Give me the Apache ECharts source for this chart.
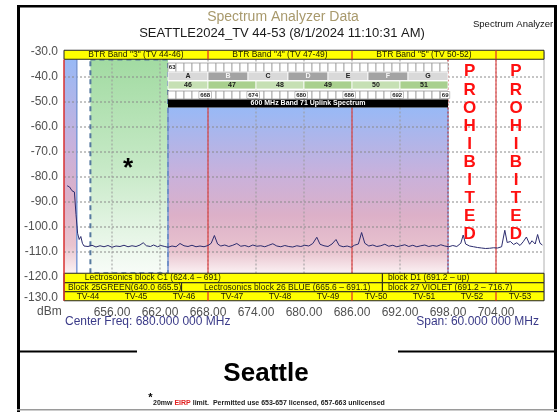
<!DOCTYPE html>
<html><head><meta charset="utf-8">
<script src="https://cdn.jsdelivr.net/npm/echarts@6/dist/echarts.min.js"></script>
<style>html,body{margin:0;padding:0;background:#fff}#c{width:560px;height:412px}</style>
</head><body><div id="c"></div>
<script>
// ---------- data ----------
const freqTicks = [656, 662, 668, 674, 680, 686, 692, 698, 704];
const levelTicks = [-40, -50, -60, -70, -80, -90, -100, -110, -120];
const btrBands = [['BTR Band "3" (TV 44-46)', 650, 668], ['BTR Band "4" (TV 47-49)', 668, 686], ['BTR Band "5" (TV 50-52)', 686, 704], ['', 704, 710]];
const btrEdges = [650, 668, 686, 704];
const tvChannels = [['TV-44', 650, 656], ['TV-45', 656, 662], ['TV-46', 662, 668], ['TV-47', 668, 674], ['TV-48', 674, 680], ['TV-49', 680, 686], ['TV-50', 686, 692], ['TV-51', 692, 698], ['TV-52', 698, 704], ['TV-53', 704, 710]];
const tmoBlocks = [['A', 663, 668], ['B', 668, 673], ['C', 673, 678], ['D', 678, 683], ['E', 683, 688], ['F', 688, 693], ['G', 693, 698]];
const band71Channels = [['46', 663, 668], ['47', 668, 674], ['48', 674, 680], ['49', 680, 686], ['50', 686, 692], ['51', 692, 698]];
const mhzLabels = [['668', 668], ['674', 674], ['680', 680], ['686', 686], ['692', 692], ['69', 698]];
const firstMhzLabel = ['63', 663];
const lectroUpper = [['Lectrosonics block C1 (624.4 – 691)', 650, 689.8], ['block D1 (691.2 – up)', 689.8, 710]];
const lectroLower = [['Block 25GREEN(640.0 665.5)', 650, 664.7], ['Lectrosonics block 26 BLUE (665.6 – 691.1)', 664.7, 689.8], ['block 27 VIOLET (691.2 – 716.7)', 689.8, 710]];
const band71Uplink = [663, 698];
const band71Title = '600 MHz Band 71 Uplink Spectrum';
const downlinkStrip = [650, 651.6];
const permitted = [653.3, 663];
const prohibitedEdges = [698, 704];
const prohibitedCols = [700.7, 706.5];
const trace = [
[650.4,-83.5],[650.7,-84.0],[651.0,-85.5],[651.3,-86.0],[651.5,-95.0],[651.7,-102.5],[651.9,-105.0],[652.1,-103.8],[652.3,-106.5],[652.5,-107.6],
[653.0,-107.8],[653.5,-107.3],[654.0,-108.0],[654.5,-107.5],[655.0,-107.9],[655.5,-107.4],[656.0,-108.1],[656.5,-107.6],[657.0,-107.8],[657.5,-107.3],
[658.0,-107.9],[658.5,-107.5],[659.0,-107.8],[659.5,-107.2],[659.9,-106.3],[660.3,-107.5],[660.8,-107.8],[661.2,-107.2],[661.7,-107.9],[662.1,-107.4],
[662.6,-107.8],[663.0,-108.1],[663.5,-107.6],[664.0,-107.9],[664.5,-106.6],[665.0,-107.5],[665.5,-107.8],[666.0,-107.3],[666.5,-107.9],[667.0,-107.6],
[667.5,-107.9],[668.0,-107.4],[668.4,-106.5],[668.8,-103.4],[669.2,-106.8],[669.6,-107.6],[670.1,-107.2],[670.6,-107.8],[671.1,-107.3],[671.6,-106.6],
[672.1,-107.7],[672.6,-107.4],[673.1,-107.9],[673.6,-107.2],[674.1,-107.7],[674.6,-107.5],[675.1,-107.9],[675.6,-107.3],[676.1,-106.7],[676.6,-107.6],
[677.1,-107.9],[677.6,-107.4],[678.1,-107.8],[678.6,-108.0],[679.1,-107.5],[679.6,-107.8],[680.1,-107.3],[680.6,-107.6],[681.1,-106.6],[681.6,-104.1],
[682.0,-106.9],[682.5,-107.5],[683.0,-107.8],[683.5,-106.8],[684.0,-105.0],[684.4,-107.4],[684.9,-107.9],[685.4,-107.6],[685.9,-108.1],[686.3,-107.3],
[686.8,-106.8],[687.2,-102.2],[687.6,-106.5],[688.1,-107.6],[688.6,-107.2],[689.1,-107.8],[689.6,-107.5],[690.1,-106.9],[690.6,-107.7],[691.1,-107.3],
[691.6,-107.9],[692.1,-107.5],[692.6,-107.1],[693.1,-107.8],[693.6,-107.3],[694.1,-107.9],[694.6,-107.5],[695.1,-107.2],[695.6,-107.8],[696.1,-107.4],
[696.6,-107.7],[697.1,-107.1],[697.6,-107.6],[698.1,-107.9],[698.6,-107.4],[699.1,-107.8],[699.6,-106.5],[699.9,-103.2],[700.2,-106.8],[700.7,-107.6],
[701.2,-107.9],[701.7,-108.2],[702.2,-108.4],[702.7,-108.6],[703.2,-108.5],[703.7,-108.3],[704.2,-108.4],[704.7,-107.9],[705.1,-101.3],[705.4,-106.2],
[705.8,-105.8],[706.2,-107.0],[706.6,-106.3],[707.0,-107.4],[707.4,-105.9],[707.8,-104.0],[708.2,-106.9],[708.5,-105.5],[708.9,-106.8],[709.2,-103.0],
[709.5,-106.5],[709.8,-107.2]
];

// ---------- layout (rows in dBm units) ----------
const R = { btr:[-29.3,-32.9], r1:[-34.4,-38.0], r2:[-38.0,-41.4], r3:[-41.6,-44.8], r4:[-45.6,-48.8], r5:[-49.0,-52.2],
  top:-33.0, bot:-118.5, l1:[-118.5,-122.3], l2:[-122.3,-125.9], tv:[-125.9,-129.5] };
const FONT = 'Liberation Sans';
const rowFont = '8.5px ' + FONT;
const rowColor = '#1c1c00';
const shapes = [];
const rect = (x0,x1,y,style,label) => shapes.push({t:'rect',x0,x1,y0:y[0],y1:y[1],style,label});
const line = (x0,x1,y0,y1,style) => shapes.push({t:'line',x0,x1,y0,y1,style});
const text = (x,y,label) => shapes.push({t:'text',x0:x,x1:x,y0:y,y1:y,label});
const G = echarts.graphic;
const bandGrad = () => new G.LinearGradient(0,0,0,1,[{offset:0,color:'#98b9f6'},{offset:0.4,color:'#c8b1dc'},{offset:0.65,color:'#dcb0c8'},{offset:0.87,color:'#e9c4cf'},{offset:1,color:'#fbf1f3'}]);
const greenGrad = () => new G.LinearGradient(0,0,0,1,[{offset:0,color:'#a2dba2'},{offset:0.5,color:'#c6e9c6'},{offset:1,color:'#f8fcf8'}]);

// shaded regions
rect(downlinkStrip[0], downlinkStrip[1], [R.top, R.bot], {fill: bandGrad()});
rect(permitted[0], permitted[1], [R.top, R.bot], {fill: greenGrad()});
rect(band71Uplink[0], band71Uplink[1], [R.r5[1], R.bot], {fill: bandGrad()});
// grid lines
levelTicks.forEach(v => line(650, 710, v, v, {stroke:'#8a8a8a', lineWidth:1, lineDash:[2,2]}));
freqTicks.forEach(f => line(f, f, R.top, R.bot, {stroke:'#9a9a9a', lineWidth:1, lineDash:[2,2]}));
// borders
rect(permitted[0], permitted[1], [R.top, R.bot], {fill:null, stroke:'#56799f', lineWidth:2, lineDash:[5,4]});
line(downlinkStrip[1], downlinkStrip[1], R.top, R.bot, {stroke:'#7b98d4', lineWidth:1.5});
line(band71Uplink[0], band71Uplink[0], R.r5[1], R.bot, {stroke:'#7b98d4', lineWidth:1.5});
line(band71Uplink[1], band71Uplink[1], R.r5[1], R.bot, {stroke:'#7b98d4', lineWidth:1.5});
line(prohibitedEdges[0], prohibitedEdges[0], R.top, R.bot, {stroke:'#e03030', lineWidth:1, lineDash:[2,2]});
[668, 686].forEach(f => line(f, f, R.r5[1], R.bot, {stroke:'#e02828', lineWidth:1}));
line(prohibitedEdges[1], prohibitedEdges[1], R.top, R.tv[1], {stroke:'#e02828', lineWidth:1});
line(710, 710, -30, R.tv[1], {stroke:'#b0b0b0', lineWidth:1});
// BTR row
btrBands.forEach(b => rect(b[1], b[2], R.btr, {fill:'#ffff00'}, {text:b[0], font:rowFont, color:rowColor}));
rect(650, 710, R.btr, {fill:null, stroke:'#222', lineWidth:1});
btrEdges.slice(1).forEach(f => line(f, f, R.btr[0], R.btr[1], {stroke:'#e02828', lineWidth:1.2}));
// band 71 header rows
for (let f = band71Uplink[0]; f < band71Uplink[1]; f++) {
  rect(f, f+1, R.r1, {fill:'#fff', stroke:'#9a9a9a', lineWidth:0.8});
  rect(f, f+1, R.r4, {fill:'#fff', stroke:'#9a9a9a', lineWidth:0.8});
}
text(firstMhzLabel[1] + 0.1, (R.r1[0]+R.r1[1])/2, {text:firstMhzLabel[0], font:'bold 6px ' + FONT, color:'#222', align:'left'});
tmoBlocks.forEach((b,i) => rect(b[1], b[2], R.r2, {fill: i%2 ? '#a3a3a3' : '#d9d9d9', stroke:'#fff', lineWidth:0.8},
  {text:b[0], font:'bold 7px ' + FONT, color: i%2 ? '#f4f4f4' : '#222'}));
band71Channels.forEach((b,i) => rect(b[1], b[2], R.r3, {fill: i%2 ? '#a9d08e' : '#c6e0b4', stroke:'#fff', lineWidth:0.8},
  {text:b[0], font:'bold 7px ' + FONT, color:'#1a1a1a'}));
mhzLabels.forEach(m => text(m[1] - 0.35, (R.r4[0]+R.r4[1])/2, {text:m[0], font:'bold 6px ' + FONT, color:'#222', bg:'#fff'}));
rect(band71Uplink[0], band71Uplink[1], R.r5, {fill:'#000'}, {text:band71Title, font:'bold 7px ' + FONT, color:'#fff'});
// lectrosonics rows
const lectroAnchor = {0:652.6, 1:690.5};
lectroUpper.forEach((b,i) => rect(b[1], b[2], R.l1, {fill:'#ffff00', stroke:'#222', lineWidth:1}, {text:b[0], font:rowFont, color:rowColor, align:'left', ax: lectroAnchor[i]}));
const lectroAnchor2 = {0:650.5, 1:667.5, 2:690.5};
lectroLower.forEach((b,i) => rect(b[1], b[2], R.l2, {fill:'#ffff00', stroke:'#222', lineWidth:1}, {text:b[0], font:rowFont, color:rowColor, align:'left', ax: lectroAnchor2[i]}));
// TV row
tvChannels.forEach(c => rect(c[1], c[2], R.tv, {fill:'#ffff00'}, {text:c[0], font:rowFont, color:rowColor, dy:0.5}));
rect(650, 710, R.tv, {fill:null, stroke:'#222', lineWidth:1});
btrEdges.slice(1).forEach(f => line(f, f, R.tv[0], R.tv[1], {stroke:'#e02828', lineWidth:1.2}));
line(650, 650, R.top, R.tv[1], {stroke:'#d83030', lineWidth:1.5});
// annotations
prohibitedCols.forEach(x => text(x, -34.3, {text:'P\nR\nO\nH\nI\nB\nI\nT\nE\nD', font:'bold 17px ' + FONT, color:'#ff1010', va:'top', lh:18.1}));
text(658, -76.9, {text:'*', font:'bold 26px ' + FONT, color:'#000'});

function renderItem(params, api) {
  const s = shapes[params.dataIndex];
  const a = api.coord([s.x0, s.y0]), b = api.coord([s.x1, s.y1]);
  if (s.t === 'line') {
    return {type:'line', shape:{x1:a[0], y1:a[1], x2:b[0], y2:b[1]}, style:Object.assign({fill:null}, s.style)};
  }
  if (s.t === 'text') {
    const L = s.label;
    const st = {text:L.text, font:L.font, fill:L.color, align:L.align || 'center', verticalAlign:L.va || 'middle'};
    if (L.lh) st.lineHeight = L.lh;
    if (L.bg) { st.backgroundColor = L.bg; st.borderColor = '#9a9a9a'; st.borderWidth = 0.6; st.padding = [0, 1]; }
    return {type:'text', x:a[0], y:a[1], style:st};
  }
  const x = Math.min(a[0], b[0]), y = Math.min(a[1], b[1]);
  const w = Math.abs(b[0]-a[0]), h = Math.abs(b[1]-a[1]);
  const children = [{type:'rect', shape:{x, y, width:w, height:h}, style:Object.assign({}, s.style)}];
  if (s.label && s.label.text) {
    const L = s.label;
    const tx = L.ax != null ? api.coord([L.ax, 0])[0] : x + w/2;
    children.push({type:'text', x:tx, y:y + h/2 + (L.dy || 0), style:{text:L.text, font:L.font, fill:L.color, align:L.align || 'center', verticalAlign:'middle'}});
  }
  return {type:'group', children};
}

const chart = echarts.init(document.getElementById('c'), null, {renderer:'canvas'});
const grey = '#505050';
chart.setOption({
  animation:false,
  backgroundColor:'#fff',
  grid:{left:64, right:16, top:52, bottom:110},
  xAxis:{type:'value', min:650, max:710, interval:6, axisLine:{show:false}, axisTick:{show:false}, splitLine:{show:false},
    axisLabel:{color:grey, fontSize:12, fontFamily:FONT, margin:5, formatter:v => (v === 650 || v === 710) ? '' : v.toFixed(2)}},
  yAxis:{type:'value', min:-130, max:-30, interval:10, axisLine:{show:false}, axisTick:{show:false}, splitLine:{show:false},
    axisLabel:{color:grey, fontSize:12, fontFamily:FONT, margin:6,
      formatter:v => v === -130 ? '{low|-130.0}' : v.toFixed(1),
      rich:{low:{color:grey, fontSize:12, fontFamily:FONT, padding:[0,0,9,0]}}}},
  series:[
    {type:'custom', silent:true, clip:false, renderItem, encode:{x:[0,1], y:[2,3]}, z:2,
     data: shapes.map(s => [s.x0, s.x1, s.y0, s.y1])},
    {type:'line', data:trace, symbol:'none', silent:true, z:5, lineStyle:{color:'#2c2c6e', width:1}}
  ],
  graphic:[
    {type:'rect', shape:{x:17, y:5, width:3, height:407}, style:{fill:'#000'}},
    {type:'rect', shape:{x:17, y:5, width:540, height:2.5}, style:{fill:'#000'}},
    {type:'rect', shape:{x:554, y:5, width:3, height:407}, style:{fill:'#000'}},
    {type:'rect', shape:{x:17, y:409, width:540, height:1.5}, style:{fill:'#9a9a9a'}},
    {type:'rect', shape:{x:17, y:350.5, width:120, height:2}, style:{fill:'#000'}},
    {type:'rect', shape:{x:398, y:350.5, width:159, height:2}, style:{fill:'#000'}},
    {type:'text', x:283, y:17, style:{text:'Spectrum Analyzer Data', font:'14px ' + FONT, fill:'#a8996c', align:'center', verticalAlign:'middle'}},
    {type:'text', x:282, y:33, style:{text:'SEATTLE2024_TV 44-53 (8/1/2024 11:10:31 AM)', font:'13px ' + FONT, fill:'#1a1a1a', align:'center', verticalAlign:'middle'}},
    {type:'text', x:473, y:24, style:{text:'Spectrum Analyzer', font:'9.5px ' + FONT, fill:'#111', align:'left', verticalAlign:'middle'}},
    {type:'text', x:37, y:312, style:{text:'dBm', font:'12px ' + FONT, fill:grey, align:'left', verticalAlign:'middle'}},
    {type:'text', x:65, y:322, style:{text:'Center Freq: 680.000 000 MHz', font:'12px ' + FONT, fill:'#3a3a88', align:'left', verticalAlign:'middle'}},
    {type:'text', x:539, y:322, style:{text:'Span: 60.000 000 MHz', font:'12px ' + FONT, fill:'#3a3a88', align:'right', verticalAlign:'middle'}},
    {type:'text', x:266, y:374, style:{text:'Seattle', font:'bold 26px ' + FONT, fill:'#000', align:'center', verticalAlign:'middle'}},
    {type:'text', x:150.5, y:398, style:{text:'*', font:'bold 11px ' + FONT, fill:'#000', align:'center', verticalAlign:'middle'}},
    {type:'text', x:153, y:403, style:{text:'{b|20mw }{r|EIRP}{b| limit.  Permitted use 653-657 licensed, 657-663 unlicensed}', verticalAlign:'middle', align:'left',
      rich:{b:{font:'bold 7px ' + FONT, fill:'#222'}, r:{font:'bold 7px ' + FONT, fill:'#e02020'}}}}
  ]
});
</script>
</body></html>
